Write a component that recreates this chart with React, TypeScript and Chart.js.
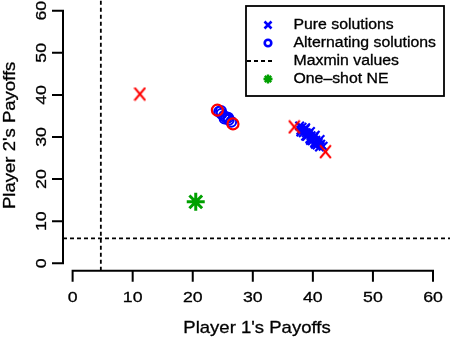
import React, { useEffect, useRef } from "react";
import { Chart, registerables } from "chart.js";
Chart.register(...registerables);

// ---- data ----
const xTicks = [0, 10, 20, 30, 40, 50, 60];
const yTicks = [0, 10, 20, 30, 40, 50, 60];
const xRange = [-1.6, 62.83];
const yRange = [-1.76, 62.54];

const pureX = [37.8, 38.2, 38.0, 38.6, 38.9, 38.4, 39.3, 39.0, 39.7, 39.5, 40.1, 39.9, 40.5, 40.3, 40.9, 40.7, 41.3, 41.1, 41.7, 38.7, 40.2, 38.8, 39.6, 40.4, 41.2, 38.0, 38.8, 39.6, 40.4];
const pureY = [32.6, 32.3, 31.6, 31.7, 31.0, 31.0, 30.8, 30.2, 30.3, 29.6, 29.8, 29.1, 29.2, 28.6, 28.7, 28.1, 28.3, 27.6, 27.8, 31.9, 30.1, 32.2, 31.3, 30.4, 29.4, 31.2, 30.2, 29.2, 28.3];
const altX = [24.4, 24.8, 25.2, 25.6, 26.0, 26.4, 24.7, 25.9, 25.3];
const altY = [36.0, 35.5, 35.0, 34.6, 34.1, 33.6, 36.2, 34.6, 34.4];
const pureHiX = [11.2, 36.9, 42.1];
const pureHiY = [40.2, 32.4, 26.5];
const altHiX = [24.1, 26.7];
const altHiY = [36.4, 33.1];
const neX = [20.5];
const neY = [14.6];
const maxminP1 = 4.7;
const maxminP2 = 5.9;

const legendLabels = ["Pure solutions", "Alternating solutions", "Maxmin values", "One\u2013shot NE"];
const xTitle = "Player 1's Payoffs";
const yTitle = "Player 2's Payoffs";

const BLUE = "#0000ff";
const RED = "#ff0000";
const GREEN = "#00a000";
const FONT = '"Liberation Sans", Arial, Helvetica, sans-serif';

const pts = (xs: number[], ys: number[]) => xs.map((v, i) => ({ x: v, y: ys[i] }));

function makeX(color: string, w: number, h: number, lw: number) {
  const c = document.createElement("canvas");
  c.width = w;
  c.height = h;
  const g = c.getContext("2d")!;
  g.strokeStyle = color;
  g.lineWidth = lw;
  g.beginPath();
  g.moveTo(lw / 2, lw / 2);
  g.lineTo(w - lw / 2, h - lw / 2);
  g.moveTo(w - lw / 2, lw / 2);
  g.lineTo(lw / 2, h - lw / 2);
  g.stroke();
  return c;
}

function sText(ctx: CanvasRenderingContext2D, text: string, x: number, y: number, sx: number, rot: boolean) {
  ctx.save();
  ctx.translate(x, y);
  if (rot) ctx.rotate(-Math.PI / 2);
  ctx.scale(sx, 1);
  ctx.fillText(text, 0, 0);
  ctx.lineWidth = 0.3;
  ctx.strokeText(text, 0, 0);
  ctx.restore();
}

const rStyle = {
  id: "rStyle",
  beforeDatasetsDraw(chart: any) {
    const { ctx, chartArea } = chart;
    const x = chart.scales.x;
    const y = chart.scales.y;
    ctx.save();
    ctx.strokeStyle = "#000";
    ctx.fillStyle = "#000";
    ctx.lineWidth = 2;
    const ay = chartArea.bottom;
    const ax = chartArea.left;
    // x axis
    ctx.beginPath();
    ctx.moveTo(x.getPixelForValue(xTicks[0]) - 1, ay);
    ctx.lineTo(x.getPixelForValue(xTicks[xTicks.length - 1]) + 1, ay);
    xTicks.forEach((v) => {
      const p = x.getPixelForValue(v);
      ctx.moveTo(p, ay);
      ctx.lineTo(p, ay + 11);
    });
    ctx.stroke();
    // y axis
    ctx.beginPath();
    ctx.moveTo(ax, y.getPixelForValue(yTicks[0]) + 1);
    ctx.lineTo(ax, y.getPixelForValue(yTicks[yTicks.length - 1]) - 1);
    yTicks.forEach((v) => {
      const p = y.getPixelForValue(v);
      ctx.moveTo(ax, p);
      ctx.lineTo(ax - 11, p);
    });
    ctx.stroke();
    // tick labels
    ctx.textAlign = "center";
    ctx.textBaseline = "alphabetic";
    ctx.font = `15px ${FONT}`;
    xTicks.forEach((v) => sText(ctx, String(v), x.getPixelForValue(v), 301.5, 1.18, false));
    yTicks.forEach((v) => sText(ctx, String(v), 45.5, y.getPixelForValue(v), 1.18, true));
    // titles
    ctx.font = `17px ${FONT}`;
    sText(ctx, xTitle, (chartArea.left + chartArea.right) / 2 + 0.5, 332.5, 1.09, false);
    sText(ctx, yTitle, 14.5, (chartArea.top + chartArea.bottom) / 2, 1.09, true);
    ctx.restore();
  },
  afterDraw(chart: any) {
    const { ctx } = chart;
    ctx.save();
    ctx.strokeStyle = "#000";
    ctx.lineWidth = 1.8;
    ctx.strokeRect(246, 6, 198, 90);
    const sx = 268;
    const rows = [25, 43, 61, 79];
    // pure x
    ctx.strokeStyle = BLUE;
    ctx.lineWidth = 2.6;
    ctx.beginPath();
    ctx.moveTo(sx - 3.5, rows[0] - 3.5);
    ctx.lineTo(sx + 3.5, rows[0] + 3.5);
    ctx.moveTo(sx + 3.5, rows[0] - 3.5);
    ctx.lineTo(sx - 3.5, rows[0] + 3.5);
    ctx.stroke();
    // alt circle
    ctx.beginPath();
    ctx.arc(sx, rows[1], 3.3, 0, Math.PI * 2);
    ctx.stroke();
    // dashed
    ctx.strokeStyle = "#000";
    ctx.lineWidth = 2;
    ctx.setLineDash([4, 3]);
    ctx.beginPath();
    ctx.moveTo(247, rows[2]);
    ctx.lineTo(275, rows[2]);
    ctx.stroke();
    ctx.setLineDash([]);
    // star
    ctx.strokeStyle = GREEN;
    ctx.lineWidth = 2.4;
    ctx.beginPath();
    const r = 4.5;
    for (let k = 0; k < 4; k++) {
      const a = (k * Math.PI) / 4;
      ctx.moveTo(sx - r * Math.cos(a), rows[3] - r * Math.sin(a));
      ctx.lineTo(sx + r * Math.cos(a), rows[3] + r * Math.sin(a));
    }
    ctx.stroke();
    // labels
    ctx.fillStyle = "#000";
    ctx.strokeStyle = "#000";
    ctx.font = `14px ${FONT}`;
    ctx.textAlign = "left";
    ctx.textBaseline = "middle";
    legendLabels.forEach((t, i) => sText(ctx, t, 293.5, rows[i] + 0.5, 1.13, false));
    ctx.restore();
  },
};

export default function App() {
  const ref = useRef<HTMLCanvasElement>(null);
  useEffect(() => {
    if (!ref.current) return;
    const redX = makeX(RED, 13, 15, 2.2);
    const chart = new Chart(ref.current, {
      type: "scatter",
      data: {
        datasets: [
          {
            label: "red-x",
            data: pts(pureHiX, pureHiY),
            pointStyle: redX as any,
            order: 0,
          },
          {
            label: "red-o",
            data: pts(altHiX, altHiY),
            pointStyle: "circle",
            pointRadius: 5.5,
            borderColor: RED,
            backgroundColor: "rgba(0,0,0,0)",
            borderWidth: 2.2,
            order: 0,
          },
          {
            label: legendLabels[3],
            data: pts(neX, neY),
            pointStyle: "star",
            pointRadius: 9,
            borderColor: GREEN,
            backgroundColor: GREEN,
            borderWidth: 3,
            order: 1,
          },
          {
            label: legendLabels[0],
            data: pts(pureX, pureY),
            pointStyle: "crossRot",
            pointRadius: 6,
            borderColor: BLUE,
            backgroundColor: BLUE,
            borderWidth: 2.2,
            order: 2,
          },
          {
            label: legendLabels[1],
            data: pts(altX, altY),
            pointStyle: "circle",
            pointRadius: 5,
            borderColor: BLUE,
            backgroundColor: "rgba(0,0,0,0)",
            borderWidth: 2,
            order: 2,
          },
          {
            label: "maxmin-1",
            data: [
              { x: maxminP1, y: yRange[0] },
              { x: maxminP1, y: yRange[1] },
            ],
            showLine: true,
            borderColor: "#000",
            borderWidth: 1.8,
            borderDash: [4, 3],
            pointRadius: 0,
            order: 3,
          },
          {
            label: "maxmin-2",
            data: [
              { x: xRange[0], y: maxminP2 },
              { x: xRange[1], y: maxminP2 },
            ],
            showLine: true,
            borderColor: "#000",
            borderWidth: 1.8,
            borderDash: [4, 3],
            pointRadius: 0,
            order: 3,
          },
        ],
      },
      options: {
        animation: false,
        responsive: false,
        devicePixelRatio: 1,
        layout: { autoPadding: false, padding: { left: 63, right: 0, top: 0, bottom: 67.3 } },
        scales: {
          x: { type: "linear", min: xRange[0], max: xRange[1], display: false },
          y: { type: "linear", min: yRange[0], max: yRange[1], display: false },
        },
        plugins: { legend: { display: false }, tooltip: { enabled: false } },
        events: [],
      },
      plugins: [rStyle],
    });
    return () => chart.destroy();
  }, []);
  return (
    <div style={{ position: "absolute", left: 0, top: 0, width: 450, height: 338, background: "#fff" }}>
      <canvas ref={ref} width={450} height={338} style={{ width: 450, height: 338, display: "block" }} />
    </div>
  );
}
